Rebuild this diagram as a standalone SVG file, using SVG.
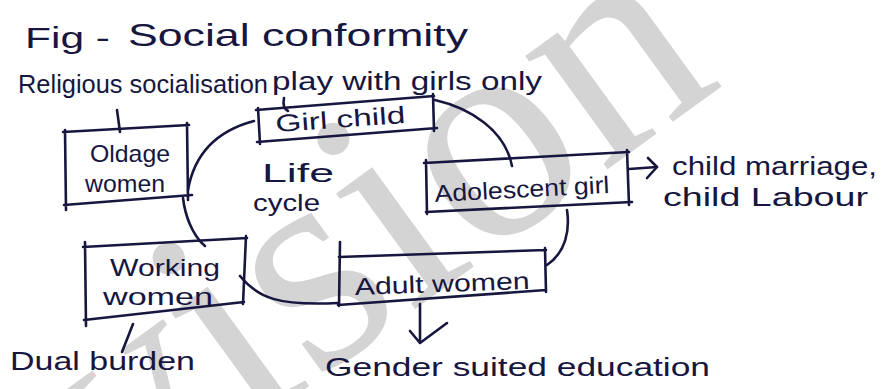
<svg xmlns="http://www.w3.org/2000/svg" width="893" height="389" viewBox="0 0 893 389">
  <style>
    .ink { fill: none; stroke: #16163f; stroke-width: 2.6; stroke-linecap: round; stroke-linejoin: round; }
    .hand { font-family: "Liberation Sans", Arial, sans-serif; fill: #16163f; }
    .wm { font-family: "Liberation Serif", "Times New Roman", serif; fill: #d4d4d4; }
  </style>
  <rect width="893" height="389" fill="#ffffff"/>

  <!-- background watermark -->
  <g id="watermark">
    <text class="wm" font-size="305" transform="translate(122,522) rotate(-36)">vision</text>
  </g>

  <!-- heading -->
  <g id="heading">
    <text class="hand" x="25" y="48" font-size="30" textLength="85" lengthAdjust="spacingAndGlyphs">Fig -</text>
    <text class="hand" x="128" y="46" font-size="32" textLength="340" lengthAdjust="spacingAndGlyphs">Social conformity</text>
  </g>

  <!-- connectors -->
  <g id="connectors" class="ink">
    <!-- Religious socialisation to Oldage women -->
    <path d="M117,110 L120,132"/>
    <!-- play with girls only to Girl child -->
    <path d="M284,98 Q282,108 288,111"/>
    <!-- Girl child to Adolescent girl -->
    <path d="M435,100 C470,108 505,130 512,166"/>
    <!-- Girl child to Oldage women -->
    <path d="M254,121 C220,130 195,150 188,190"/>
    <!-- Oldage women to Working women -->
    <path d="M183,198 C185,215 192,235 205,246"/>
    <!-- Working women to Dual burden -->
    <path d="M133,324 L122,352"/>
    <!-- Working women to Adult women -->
    <path d="M240,276 C258,298 278,306 338,303"/>
    <!-- Adolescent girl to Adult women -->
    <path d="M567,210 C570,230 566,252 547,265"/>
    <!-- Adolescent girl to child marriage -->
    <path d="M629,169 L657,167"/>
    <path d="M648,158 L657,167 L647,178"/>
    <!-- Adult women to Gender suited education -->
    <path d="M420,304 L420,342"/>
    <path d="M410,331 L420,343 L447,323"/>
  </g>

  <!-- side notes -->
  <g id="notes">
    <text class="hand" x="18" y="93" font-size="26" textLength="250" lengthAdjust="spacingAndGlyphs">Religious socialisation</text>
    <text class="hand" x="272" y="90" font-size="26" textLength="270" lengthAdjust="spacingAndGlyphs">play with girls only</text>
    <text class="hand" x="672" y="175" font-size="26" textLength="205" lengthAdjust="spacingAndGlyphs">child marriage,</text>
    <text class="hand" x="663" y="206" font-size="26" textLength="205" lengthAdjust="spacingAndGlyphs">child Labour</text>
    <text class="hand" x="10" y="370" font-size="26" textLength="185" lengthAdjust="spacingAndGlyphs">Dual burden</text>
    <text class="hand" x="325" y="376" font-size="26" textLength="385" lengthAdjust="spacingAndGlyphs">Gender suited education</text>
  </g>

  <!-- centre label -->
  <g id="life-cycle">
    <text class="hand" x="262" y="182" font-size="26" textLength="72" lengthAdjust="spacingAndGlyphs">Life</text>
    <text class="hand" x="253" y="211" font-size="24" textLength="67" lengthAdjust="spacingAndGlyphs">cycle</text>
  </g>

  <g id="girl-child">
    <path class="ink" d="M256,110 L434,96 M258,108 L260,144 M257,142 L437,128 M433,94 L434,131"/>
    <text class="hand" font-size="24" textLength="130" lengthAdjust="spacingAndGlyphs" transform="translate(276,132) rotate(-4)">Girl child</text>
  </g>

  <g id="oldage-women">
    <path class="ink" d="M63,132 L189,125 M65,130 L66,210 M64,205 L192,195 M187,123 L188,200"/>
    <text class="hand" x="90" y="162" font-size="24" textLength="80" lengthAdjust="spacingAndGlyphs">Oldage</text>
    <text class="hand" x="85" y="192" font-size="24" textLength="80" lengthAdjust="spacingAndGlyphs">women</text>
  </g>

  <g id="adolescent-girl">
    <path class="ink" d="M424,163 L629,152 M426,160 L427,214 M426,212 L632,202 M627,150 L629,205"/>
    <text class="hand" font-size="24" textLength="175" lengthAdjust="spacingAndGlyphs" transform="translate(435,202) rotate(-3)">Adolescent girl</text>
  </g>

  <g id="working-women">
    <path class="ink" d="M83,247 L247,238 M85,242 L86,326 M84,320 L244,302 M246,236 L243,304"/>
    <text class="hand" x="110" y="276" font-size="24" textLength="110" lengthAdjust="spacingAndGlyphs">Working</text>
    <text class="hand" x="103" y="305" font-size="24" textLength="110" lengthAdjust="spacingAndGlyphs">women</text>
  </g>

  <g id="adult-women">
    <path class="ink" d="M339,257 L546,250 M340,242 L339,306 M338,305 L546,290 M545,248 L546,292"/>
    <text class="hand" font-size="24" textLength="175" lengthAdjust="spacingAndGlyphs" transform="translate(355,295) rotate(-2)">Adult women</text>
  </g>
</svg>
